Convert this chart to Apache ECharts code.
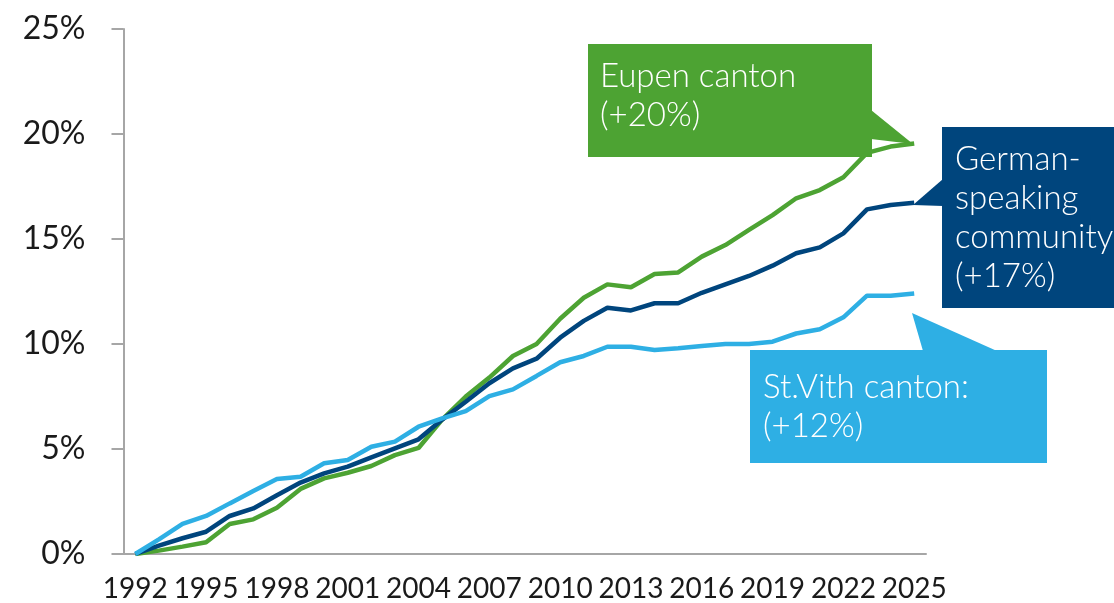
<!DOCTYPE html>
<html>
<head>
<meta charset="utf-8">
<script src="https://cdn.jsdelivr.net/npm/echarts@6/dist/echarts.min.js"></script>
<style>
  html, body { margin: 0; padding: 0; background: #fff; }
  #chart { width: 1114px; height: 603px; }
</style>
</head>
<body>
<div id="chart"></div>
<script>
// years on the x axis
var years = [];
for (var y = 1992; y <= 2025; y++) years.push(String(y));

// cumulative population growth since 1992, in %
var eupen = [0, 0.16, 0.35, 0.56, 1.43, 1.65, 2.2, 3.1, 3.6, 3.87, 4.19, 4.71, 5.05, 6.4, 7.5, 8.4,
  9.43, 10.0, 11.2, 12.2, 12.84, 12.7, 13.33, 13.41, 14.16, 14.71, 15.43, 16.14, 16.94, 17.33, 17.94,
  19.1, 19.4, 19.55];
var german = [0, 0.4, 0.75, 1.06, 1.81, 2.17, 2.8, 3.4, 3.84, 4.16, 4.6, 5.03, 5.46, 6.4, 7.25, 8.13,
  8.84, 9.3, 10.3, 11.1, 11.73, 11.6, 11.94, 11.94, 12.44, 12.84, 13.24, 13.73, 14.32, 14.6, 15.27,
  16.41, 16.62, 16.73];
var stVith = [0, 0.7, 1.43, 1.81, 2.41, 3.0, 3.57, 3.68, 4.32, 4.48, 5.11, 5.35, 6.06, 6.46, 6.8, 7.52,
  7.84, 8.48, 9.13, 9.43, 9.87, 9.87, 9.71, 9.8, 9.9, 10.0, 10.0, 10.11, 10.5, 10.7, 11.27,
  12.3, 12.3, 12.41];

var GREEN = '#4da333';
var DARK = '#00457d';
var LIGHT = '#2eafe4';
var FONT = 'Lato, "Open Sans", sans-serif';

// callout: box + pointer + white text
function callout(color, box, pointer, text, tx, ty) {
  return {
    type: 'group',
    z: 100,
    children: [
      { type: 'rect', shape: box, style: { fill: color } },
      { type: 'polygon', shape: { points: pointer }, style: { fill: color } },
      {
        type: 'text', x: tx, y: ty,
        style: {
          text: text, fill: '#fff', fontSize: 33, fontWeight: 300, fontFamily: FONT,
          lineHeight: 39, align: 'left', verticalAlign: 'top'
        }
      }
    ]
  };
}

var chart = echarts.init(document.getElementById('chart'));
chart.setOption({
  animation: false,
  grid: { left: 123.5, right: 188, top: 29, bottom: 49 },
  xAxis: {
    type: 'category',
    data: years,
    boundaryGap: true,
    axisLine: { lineStyle: { color: '#a6a6a6', width: 2 } },
    axisTick: { interval: 0, length: 10, lineStyle: { color: '#a6a6a6', width: 2 } },
    axisLabel: { interval: 2, color: '#1a1a1a', fontSize: 28, fontFamily: FONT, margin: 21 },
    splitLine: { show: false }
  },
  yAxis: {
    type: 'value',
    min: 0, max: 25, interval: 5,
    axisLine: { show: true, lineStyle: { color: '#a6a6a6', width: 2 } },
    axisTick: { show: true, length: 12, lineStyle: { color: '#a6a6a6', width: 2 } },
    axisLabel: { formatter: '{value}%', color: '#1a1a1a', fontSize: 32, fontFamily: FONT, margin: 38 },
    splitLine: { show: false }
  },
  series: [
    { name: 'Eupen canton', type: 'line', data: eupen, symbol: 'none', lineStyle: { color: GREEN, width: 4.5 }, itemStyle: { color: GREEN } },
    { name: 'German-speaking community', type: 'line', data: german, symbol: 'none', lineStyle: { color: DARK, width: 4.5 }, itemStyle: { color: DARK } },
    { name: 'St.Vith canton', type: 'line', data: stVith, symbol: 'none', lineStyle: { color: LIGHT, width: 4.5 }, itemStyle: { color: LIGHT } }
  ],
  graphic: [
    callout(GREEN, { x: 588, y: 44, width: 284, height: 113 },
      [[871, 110], [913, 144], [871, 139]], 'Eupen canton\n(+20%)', 600, 57),
    callout(DARK, { x: 942, y: 127, width: 172, height: 181 },
      [[943, 179], [913, 205], [943, 206]], 'German-\nspeaking\ncommunity\n(+17%)', 955, 140),
    callout(LIGHT, { x: 750, y: 350, width: 297, height: 113 },
      [[923, 351], [912, 313], [997, 351]], 'St.Vith canton:\n(+12%)', 763, 368)
  ]
});
</script>
</body>
</html>
